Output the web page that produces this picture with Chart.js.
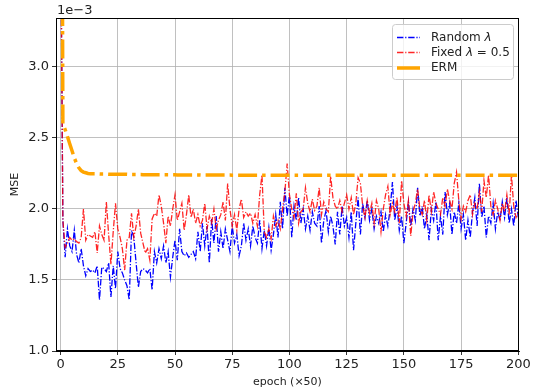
<!DOCTYPE html>
<html>
<head>
<meta charset="utf-8">
<script src="https://cdn.jsdelivr.net/npm/chart.js@4/dist/chart.umd.min.js"></script>
<style>
  body { margin: 0; background: #fff; }
  #wrap { width: 533px; height: 390px; }
</style>
</head>
<body>
<div id="wrap"><canvas id="chart" width="533" height="390"></canvas></div>
<script>
// values are MSE in units of 1e-3, one per epoch step (x 50) from 0 to 200
var seriesNames = ["Random λ", "Fixed λ = 0.5", "ERM"];
var xTicks = [0, 25, 50, 75, 100, 125, 150, 175, 200];
var yTicks = [1.0, 1.5, 2.0, 2.5, 3.0];

var randomLambda = [
  4.20,
  1.92, 1.66, 1.86, 1.74, 1.70, 1.85, 1.68, 1.62, 1.72, 1.60,
  1.53, 1.58, 1.56, 1.57, 1.55, 1.60, 1.36, 1.59, 1.58, 1.56,
  1.62, 1.38, 1.60, 1.44, 1.70, 1.58, 1.55, 1.50, 1.46, 1.36,
  1.85, 1.80, 1.62, 1.45, 1.56, 1.58, 1.57, 1.55, 1.58, 1.43,
  1.70, 1.62, 1.72, 1.65, 1.74, 1.62, 1.70, 1.52, 1.66, 1.78,
  1.64, 1.86, 1.70, 1.67, 1.69, 1.66, 1.68, 1.70, 1.65, 1.84,
  1.70, 1.90, 1.74, 1.88, 1.62, 1.93, 1.76, 1.95, 1.70, 1.84,
  1.72, 1.86, 1.78, 1.70, 1.88, 1.76, 1.82, 1.67, 1.74, 1.90,
  1.78, 1.86, 1.74, 1.88, 1.80, 1.76, 1.92, 1.72, 1.85, 1.74,
  1.87, 1.71, 1.82, 1.96, 1.80, 2.05, 1.86, 2.15, 1.95, 2.10,
  1.80, 2.02, 1.92, 2.08, 1.90, 2.00, 1.86, 1.95, 1.85, 1.98,
  1.90, 1.88, 2.02, 1.76, 1.92, 1.99, 1.84, 1.95, 1.88, 1.75,
  1.98, 1.82, 2.02, 1.88, 1.94, 1.80, 1.98, 1.71, 1.90, 2.08,
  1.82, 2.04, 1.94, 2.06, 1.92, 2.00, 1.86, 1.95, 1.90, 1.98,
  1.84, 1.96, 1.88, 2.00, 2.19, 1.92, 2.02, 1.85, 1.95, 1.76,
  1.90, 2.05, 1.88, 2.00, 1.92, 2.15, 1.95, 2.02, 1.86, 1.96,
  1.78, 2.00, 1.92, 2.05, 1.78, 1.95, 1.82, 2.12, 1.96, 2.04,
  1.82, 1.98, 1.90, 2.04, 1.86, 1.96, 1.78, 1.92, 1.80, 1.98,
  2.08, 1.88, 2.18, 1.94, 2.02, 1.80, 1.95, 1.90, 2.04, 1.86,
  1.98, 1.92, 2.05, 1.94, 2.08, 1.90, 2.00, 1.88, 2.06, 1.94
];

var fixedLambda = [
  4.20,
  1.92, 1.73, 1.76, 1.80, 1.78, 1.79, 1.77, 1.76, 1.80, 2.00,
  1.78, 1.82, 1.81, 1.80, 1.84, 1.69, 1.88, 1.82, 1.78, 2.05,
  1.82, 1.61, 1.84, 2.04, 1.86, 1.80, 1.72, 1.57, 1.78, 1.80,
  1.97, 1.80, 1.88, 2.00, 1.83, 1.76, 1.69, 1.72, 1.64, 1.93,
  1.97, 1.95, 2.10, 2.02, 1.90, 1.76, 1.95, 1.88, 2.00, 2.10,
  1.92, 1.98, 2.04, 1.85, 1.96, 2.10, 1.94, 2.00, 1.90, 1.96,
  1.88, 1.92, 2.04, 1.86, 1.95, 1.90, 2.00, 1.86, 1.92, 1.96,
  2.05, 1.92, 2.18, 2.00, 1.88, 1.96, 1.85, 2.00, 2.07, 1.94,
  1.98, 1.95, 1.97, 1.90, 1.96, 1.88, 2.10, 2.24, 1.84, 1.80,
  1.86, 1.79, 1.95, 1.88, 1.92, 1.86, 2.00, 2.12, 2.32, 2.10,
  2.00, 1.94, 2.11, 1.90, 1.98, 2.00, 2.15, 2.04, 1.98, 2.07,
  1.99, 2.02, 2.15, 1.96, 2.05, 2.00, 1.98, 2.23, 2.08, 2.02,
  2.00, 2.06, 1.98, 2.04, 2.10, 2.00, 2.08, 1.96, 2.04, 2.22,
  2.18, 2.02, 1.94, 2.06, 1.97, 2.04, 1.90, 2.06, 2.00, 1.84,
  2.00, 2.10, 2.16, 1.96, 2.04, 1.98, 2.08, 1.90, 2.20, 2.04,
  1.95, 2.06, 1.81, 1.98, 2.04, 2.14, 2.00, 1.96, 2.06, 1.92,
  2.10, 1.98, 2.12, 2.04, 2.00, 1.96, 2.08, 2.02, 2.14, 2.06,
  2.00, 2.18, 2.26, 2.06, 1.93, 2.02, 1.98, 2.06, 2.10, 1.96,
  2.04, 2.00, 2.12, 1.98, 2.20, 2.08, 2.24, 2.02, 1.96, 2.06,
  2.00, 1.92, 2.04, 1.98, 2.10, 1.96, 2.24, 2.02, 1.94, 1.98
];

var ermLoss = [
  8.00,
  2.60, 2.56, 2.51, 2.46, 2.41, 2.36, 2.32, 2.29, 2.27, 2.26,
  2.255, 2.250, 2.249, 2.248, 2.248, 2.247, 2.247, 2.246, 2.246, 2.246,
  2.245, 2.245, 2.245, 2.245, 2.244, 2.244, 2.244, 2.244, 2.244, 2.243,
  2.243, 2.243, 2.243, 2.243, 2.243, 2.242, 2.242, 2.242, 2.242, 2.242,
  2.242, 2.242, 2.241, 2.241, 2.241, 2.241, 2.241, 2.241, 2.241, 2.241,
  2.240, 2.240, 2.240, 2.240, 2.240, 2.240, 2.240, 2.240, 2.240, 2.240,
  2.240, 2.239, 2.239, 2.239, 2.239, 2.239, 2.239, 2.239, 2.239, 2.239,
  2.239, 2.239, 2.239, 2.239, 2.238, 2.238, 2.238, 2.238, 2.238, 2.238,
  2.238, 2.238, 2.238, 2.238, 2.238, 2.238, 2.238, 2.238, 2.238, 2.238,
  2.238, 2.238, 2.238, 2.237, 2.237, 2.237, 2.237, 2.237, 2.237, 2.237,
  2.237, 2.237, 2.237, 2.237, 2.237, 2.237, 2.237, 2.237, 2.237, 2.237,
  2.237, 2.237, 2.237, 2.237, 2.237, 2.237, 2.237, 2.237, 2.237, 2.237,
  2.237, 2.237, 2.237, 2.237, 2.237, 2.237, 2.237, 2.237, 2.237, 2.237,
  2.237, 2.237, 2.237, 2.237, 2.237, 2.237, 2.237, 2.237, 2.237, 2.237,
  2.237, 2.237, 2.237, 2.237, 2.237, 2.237, 2.237, 2.237, 2.237, 2.237,
  2.237, 2.237, 2.237, 2.237, 2.237, 2.237, 2.237, 2.237, 2.237, 2.237,
  2.237, 2.237, 2.237, 2.237, 2.237, 2.237, 2.237, 2.237, 2.237, 2.237,
  2.237, 2.237, 2.237, 2.237, 2.237, 2.237, 2.237, 2.237, 2.237, 2.237,
  2.237, 2.237, 2.237, 2.237, 2.237, 2.237, 2.237, 2.237, 2.237, 2.237,
  2.237, 2.237, 2.237, 2.237, 2.237, 2.237, 2.237, 2.237, 2.237, 2.237
];

var FONT = "'DejaVu Sans', sans-serif";

function toPoints(arr) {
  return arr.map(function (v, i) { return { x: i, y: v }; });
}

// legend label pieces, the lambda is drawn in italics like mathtext
var legendParts = [
  [["Random ", false], ["λ", true]],
  [["Fixed ", false], ["λ", true], [" = 0.5", false]],
  [["ERM", false]]
];

var framePlugin = {
  id: "frame",
  afterDraw: function (chart) {
    var ctx = chart.ctx;
    var a = chart.chartArea;
    ctx.save();
    // spines
    ctx.strokeStyle = "#000";
    ctx.lineWidth = 1;
    ctx.strokeRect(a.left + 0.5, a.top + 0.5, a.right - a.left - 1, a.bottom - a.top - 1);

    // offset text
    ctx.fillStyle = "#222";
    ctx.font = "13px " + FONT;
    ctx.textAlign = "left";
    ctx.textBaseline = "bottom";
    ctx.fillText("1e\u22123", a.left + 1, a.top - 1);

    // legend box
    var bx = 392, by = 24, bw = 121, bh = 55;
    ctx.beginPath();
    ctx.roundRect(bx + 0.5, by + 0.5, bw, bh, 3);
    ctx.fillStyle = "rgba(255,255,255,0.8)";
    ctx.fill();
    ctx.strokeStyle = "#cccccc";
    ctx.lineWidth = 1;
    ctx.stroke();

    var rowY = [37.5, 52.5, 68];
    chart.data.datasets.forEach(function (ds, i) {
      ctx.save();
      ctx.strokeStyle = ds.borderColor;
      ctx.lineWidth = ds.borderWidth;
      ctx.setLineDash(ds.legendDash);
      ctx.lineCap = "butt";
      ctx.beginPath();
      ctx.moveTo(397, rowY[i]);
      ctx.lineTo(420, rowY[i]);
      ctx.stroke();
      ctx.restore();

      var x = 431;
      ctx.fillStyle = "#222";
      ctx.textBaseline = "middle";
      ctx.textAlign = "left";
      legendParts[i].forEach(function (p) {
        ctx.font = (p[1] ? "italic " : "") + "12px " + FONT;
        ctx.fillText(p[0], x, rowY[i]);
        x += ctx.measureText(p[0]).width;
      });
    });
    ctx.restore();
  }
};

var ctx = document.getElementById("chart").getContext("2d");
var chart = new Chart(ctx, {
  type: "line",
  data: {
    datasets: [
      {
        label: seriesNames[0],
        data: toPoints(randomLambda),
        borderColor: "#0000ff",
        borderWidth: 1.3,
        borderDash: [6.4, 1.8, 1.2, 1.8],
        legendDash: [6.4, 1.8, 1.2, 1.8],
        pointRadius: 0,
        tension: 0,
        order: 2
      },
      {
        label: seriesNames[1],
        data: toPoints(fixedLambda),
        borderColor: "rgba(255,0,0,0.85)",
        borderWidth: 1.3,
        borderDash: [6.4, 1.8, 1.2, 1.8],
        legendDash: [6.4, 1.8, 1.2, 1.8],
        pointRadius: 0,
        tension: 0,
        order: 1
      },
      {
        label: seriesNames[2],
        data: toPoints(ermLoss),
        borderColor: "#ffa500",
        borderWidth: 3.5,
        borderDash: [19, 5, 3.5, 5],
        legendDash: [],
        borderCapStyle: "butt",
        pointRadius: 0,
        tension: 0,
        order: 0
      }
    ]
  },
  options: {
    responsive: false,
    animation: false,
    events: [],
    layout: { padding: { left: 0, right: 14, top: 18, bottom: 0 } },
    plugins: {
      legend: { display: false },
      tooltip: { enabled: false }
    },
    scales: {
      x: {
        type: "linear",
        min: -2,
        max: 200.3,
        afterFit: function (s) { s.height = 39; },
        afterBuildTicks: function (s) {
          s.ticks = xTicks.map(function (v) { return { value: v }; });
        },
        ticks: {
          color: "#222",
          font: { family: FONT, size: 13 },
          padding: 2,
          maxRotation: 0,
          callback: function (v) { return String(v); }
        },
        grid: { color: "#b0b0b0", lineWidth: 0.8, tickColor: "#000", tickLength: 4 },
        border: { color: "#000" },
        title: {
          display: true,
          text: "epoch (\u00d750)",
          color: "#222",
          font: { family: FONT, size: 11 },
          padding: { top: 0, bottom: 1.5 }
        }
      },
      y: {
        type: "linear",
        min: 1.0,
        max: 3.345,
        afterFit: function (s) { s.width = 56; },
        afterBuildTicks: function (s) {
          s.ticks = yTicks.map(function (v) { return { value: v }; });
        },
        ticks: {
          color: "#222",
          font: { family: FONT, size: 13 },
          padding: 3,
          callback: function (v) { return v.toFixed(1); }
        },
        grid: { color: "#b0b0b0", lineWidth: 0.8, tickColor: "#000", tickLength: 4 },
        border: { color: "#000" },
        title: {
          display: true,
          text: "MSE",
          color: "#222",
          font: { family: FONT, size: 11 },
          padding: { top: 8.5, bottom: 0 }
        }
      }
    }
  },
  plugins: [framePlugin]
});
</script>
</body>
</html>
